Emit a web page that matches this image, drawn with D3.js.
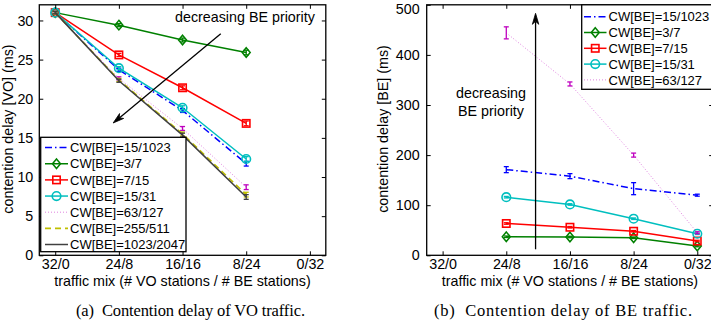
<!DOCTYPE html>
<html>
<head>
<meta charset="utf-8">
<script src="https://cdn.jsdelivr.net/npm/d3@7"></script>
<style>
  body { margin: 0; background: #fff; }
  svg { display: block; }
</style>
</head>
<body>
<svg id="fig" width="711" height="323"></svg>
<script>
// Traffic mixes (# VO stations / # BE stations)
const mixes = ["32/0", "24/8", "16/16", "8/24", "0/32"];

// Contention window settings of the BE class
const cwNames = ["CW[BE]=15/1023", "CW[BE]=3/7", "CW[BE]=7/15", "CW[BE]=15/31",
                 "CW[BE]=63/127", "CW[BE]=255/511", "CW[BE]=1023/2047"];

// VO contention delay (ms), mixes 32/0 .. 8/24
const voDelay1023 = [31.0, 23.7, 18.5, 11.7];
const voDelay7    = [31.0, 29.4, 27.5, 25.9];
const voDelay15   = [31.0, 25.6, 21.4, 16.85];
const voDelay31   = [31.0, 23.9, 18.85, 12.3];
const voDelay127  = [31.0, 22.6, 16.2, 8.7];
const voDelay511  = [31.0, 22.4, 15.5, 7.75];
const voDelay2047 = [31.0, 22.3, 15.35, 7.45];
const voErr       = [0.15, 0.2, 0.25, 0.3];

// BE contention delay (ms), mixes 24/8 .. 0/32
const beDelay1023 = [171, 158, 133, 120];
const beErr1023   = [6, 5, 12, 2];
const beDelay7    = [37, 36.5, 35, 18.5];
const beDelay15   = [63.5, 56, 48, 28.5];
const beDelay31   = [116, 101.5, 73, 43];
const beDelay127  = [444, 342, 200, 45];
const beErr127    = [12, 4, 4, 2];
const beErrSmall  = [1.5, 1.5, 1.5, 1.5];

const voTicks = [0, 5, 10, 15, 20, 25, 30];
const beTicks = [0, 100, 200, 300, 400, 500];

const styles = {
  "CW[BE]=15/1023":   { color: "#0000ff", dash: "7,3,1.5,3", width: 1.5, marker: null },
  "CW[BE]=3/7":       { color: "#008000", dash: null, width: 1.5, marker: "diamond" },
  "CW[BE]=7/15":      { color: "#ff0000", dash: null, width: 1.5, marker: "square" },
  "CW[BE]=15/31":     { color: "#00bfbf", dash: null, width: 1.5, marker: "circle" },
  "CW[BE]=63/127":    { color: "#bf00bf", dash: "1,2", width: 0.9, marker: null, lineOpacity: 0.55 },
  "CW[BE]=255/511":   { color: "#bfbf00", dash: "6,4", width: 1.6, marker: null },
  "CW[BE]=1023/2047": { color: "#404040", dash: null, width: 1.5, marker: null }
};

const svg = d3.select("#fig");
const sans = '"Liberation Sans", Arial, sans-serif';
const serif = '"Liberation Serif", "Times New Roman", serif';
const fs = 14.3;

function drawMarker(g, kind, cx, cy, color) {
  if (kind === "diamond") {
    g.append("path").attr("d", `M${cx},${cy-4.8}L${cx+4},${cy}L${cx},${cy+4.8}L${cx-4},${cy}Z`)
      .attr("fill", "none").attr("stroke", color).attr("stroke-width", 1.5);
  } else if (kind === "square") {
    g.append("rect").attr("x", cx-3.7).attr("y", cy-3.7).attr("width", 7.4).attr("height", 7.4)
      .attr("fill", "none").attr("stroke", color).attr("stroke-width", 1.6);
  } else if (kind === "circle") {
    g.append("circle").attr("cx", cx).attr("cy", cy).attr("r", 4.3)
      .attr("fill", "none").attr("stroke", color).attr("stroke-width", 1.6);
  }
}

function panel(opt) {
  const g = svg.append("g");
  const x = d3.scaleLinear().domain([-0.25, 4.25]).range([opt.left, opt.left + 286.5]);
  const y = d3.scaleLinear().domain([0, opt.ymax]).range([255.3, 4.8]);
  const x0 = x.range()[0], x1 = x.range()[1], y0 = y.range()[0], y1 = y.range()[1];

  // Series: error bars, lines, markers
  opt.series.forEach(s => {
    const st = styles[s.name];
    const pts = s.values.map((v, i) => [x(s.start + i), y(v)]);
    g.append("path")
      .attr("d", d3.line()(pts))
      .attr("fill", "none").attr("stroke", st.color).attr("stroke-width", st.width)
      .attr("stroke-opacity", st.lineOpacity || 1)
      .attr("stroke-dasharray", st.dash);
    s.values.forEach((v, i) => {
      const cx = x(s.start + i);
      const e = s.err[i];
      const ya = y(v + e), yb = y(v - e);
      const eg = g.append("g").attr("stroke", st.color).attr("stroke-width", 1.3);
      eg.append("line").attr("x1", cx).attr("x2", cx).attr("y1", ya).attr("y2", yb);
      eg.append("line").attr("x1", cx - 2.5).attr("x2", cx + 2.5).attr("y1", ya).attr("y2", ya);
      eg.append("line").attr("x1", cx - 2.5).attr("x2", cx + 2.5).attr("y1", yb).attr("y2", yb);
      if (st.marker) drawMarker(g, st.marker, cx, y(v), st.color);
    });
  });

  // Axes with inward ticks on all four sides
  const fmt = (d) => mixes[d];
  g.append("g").attr("transform", `translate(0,${y0})`)
    .call(d3.axisBottom(x).tickValues([0, 1, 2, 3, 4]).tickFormat(fmt).tickSizeInner(-4).tickSizeOuter(0).tickPadding(4))
    .call(a => a.select(".domain").remove());
  g.append("g").attr("transform", `translate(0,${y1})`)
    .call(d3.axisTop(x).tickValues([0, 1, 2, 3, 4]).tickFormat("").tickSizeInner(-4).tickSizeOuter(0))
    .call(a => a.select(".domain").remove());
  g.append("g").attr("transform", `translate(${x0},0)`)
    .call(d3.axisLeft(y).tickValues(opt.ticks).tickSizeInner(-4).tickSizeOuter(0).tickPadding(opt.ypad))
    .call(a => a.select(".domain").remove())
    // keep the topmost label inside the page
    .call(a => a.selectAll(".tick").filter(d => d === opt.ymax).select("text").attr("dy", "0.6em"));
  g.append("g").attr("transform", `translate(${x1},0)`)
    .call(d3.axisRight(y).tickValues(opt.ticks).tickFormat("").tickSizeInner(-4).tickSizeOuter(0))
    .call(a => a.select(".domain").remove());
  g.selectAll(".tick text").attr("font-family", sans).attr("font-size", fs).attr("fill", "#000");
  g.selectAll(".tick line").attr("stroke", "#000");

  // Plot frame
  g.append("rect").attr("x", x0).attr("y", y1).attr("width", x1 - x0).attr("height", y0 - y1)
    .attr("fill", "none").attr("stroke", "#000").attr("stroke-width", 1.3);

  // Axis titles
  g.append("text").attr("x", (x0 + x1) / 2).attr("y", 286)
    .attr("text-anchor", "middle").attr("font-family", sans).attr("font-size", fs)
    .text("traffic mix (# VO stations / # BE stations)");
  g.append("text")
    .attr("transform", `translate(${opt.ylabelX},129) rotate(-90)`)
    .attr("text-anchor", "middle").attr("font-family", sans).attr("font-size", fs)
    .text(opt.ylabel);

  // Caption
  g.append("text").attr("x", opt.captionX).attr("y", 315.5)
    .attr("font-family", serif).attr("font-size", 16.5)
    .attr("xml:space", "preserve")
    .attr("textLength", opt.captionLen).attr("lengthAdjust", "spacing")
    .text(opt.caption);

  return { g, x, y };
}

// (a) VO delay
const voSeries = [
  { name: "CW[BE]=15/1023",   values: voDelay1023, err: voErr, start: 0 },
  { name: "CW[BE]=3/7",       values: voDelay7,    err: voErr, start: 0 },
  { name: "CW[BE]=7/15",      values: voDelay15,   err: voErr, start: 0 },
  { name: "CW[BE]=15/31",     values: voDelay31,   err: voErr, start: 0 },
  { name: "CW[BE]=63/127",    values: voDelay127,  err: voErr, start: 0 },
  { name: "CW[BE]=255/511",   values: voDelay511,  err: voErr, start: 0 },
  { name: "CW[BE]=1023/2047", values: voDelay2047, err: voErr, start: 0 }
];
const pa = panel({ left: 39.3, ymax: 32, ticks: voTicks, series: voSeries, ypad: 6,
  ylabelX: 13, ylabel: "contention delay [VO] (ms)",
  caption: "(a)  Contention delay of VO traffic.", captionX: 76, captionLen: 229 });

// (b) BE delay
const beSeries = [
  { name: "CW[BE]=15/1023", values: beDelay1023, err: beErr1023,  start: 1 },
  { name: "CW[BE]=3/7",     values: beDelay7,    err: beErrSmall, start: 1 },
  { name: "CW[BE]=7/15",    values: beDelay15,   err: beErrSmall, start: 1 },
  { name: "CW[BE]=15/31",   values: beDelay31,   err: beErrSmall, start: 1 },
  { name: "CW[BE]=63/127",  values: beDelay127,  err: beErr127,   start: 1 }
];
const pb = panel({ left: 426.7, ymax: 500, ticks: beTicks, series: beSeries, ypad: 7,
  ylabelX: 387.5, ylabel: "contention delay [BE] (ms)",
  caption: "(b)  Contention delay of BE traffic.", captionX: 434, captionLen: 258 });

// Arrows marking the direction of decreasing BE priority
function arrow(g, xa, ya, xb, yb) {
  const ang = Math.atan2(yb - ya, xb - xa);
  const L = 11, W = 3.2;
  const bx = xb - L * Math.cos(ang), by = yb - L * Math.sin(ang);
  const nx = -Math.sin(ang), ny = Math.cos(ang);
  g.append("line").attr("x1", xa).attr("y1", ya).attr("x2", bx + 3 * Math.cos(ang)).attr("y2", by + 3 * Math.sin(ang))
    .attr("stroke", "#000").attr("stroke-width", 1.3);
  g.append("path")
    .attr("d", `M${xb},${yb}L${bx + W * nx},${by + W * ny}L${bx + 3 * Math.cos(ang)},${by + 3 * Math.sin(ang)}L${bx - W * nx},${by - W * ny}Z`)
    .attr("fill", "#000").attr("stroke", "#000").attr("stroke-width", 0.8);
}
arrow(pa.g, pa.x(2.6), pa.y(28.3), pa.x(0.91), pa.y(16.9));
pa.g.append("text").attr("x", pa.x(2.98)).attr("y", pa.y(29.75))
  .attr("text-anchor", "middle").attr("font-family", sans).attr("font-size", fs)
  .text("decreasing BE priority");

arrow(pb.g, pb.x(1.46), pb.y(12), pb.x(1.46), pb.y(483));
pb.g.append("text").attr("x", pb.x(0.76)).attr("y", pb.y(313))
  .attr("text-anchor", "middle").attr("font-family", sans).attr("font-size", fs).text("decreasing");
pb.g.append("text").attr("x", pb.x(0.76)).attr("y", pb.y(279))
  .attr("text-anchor", "middle").attr("font-family", sans).attr("font-size", fs).text("BE priority");

// Legends
function legend(g, items, bx, by, bw, bh, rowY0, step, sx0, sx1) {
  g.append("rect").attr("x", bx).attr("y", by).attr("width", bw).attr("height", bh)
    .attr("fill", "#fff").attr("stroke", "#000").attr("stroke-width", 1.3);
  items.forEach((name, i) => {
    const st = styles[name];
    const yy = rowY0 + i * step;
    g.append("line").attr("x1", sx0).attr("x2", sx1).attr("y1", yy).attr("y2", yy)
      .attr("stroke", st.color).attr("stroke-width", st.width)
      .attr("stroke-opacity", st.lineOpacity || 1)
      .attr("stroke-dasharray", st.dash);
    if (st.marker) drawMarker(g, st.marker, (sx0 + sx1) / 2, yy, st.color);
    g.append("text").attr("x", sx1 + 2).attr("y", yy + 4.7)
      .attr("font-family", sans).attr("font-size", 13).text(name);
  });
}
legend(pa.g, cwNames, 40.7, 137.3, 145.3, 114.4, 147.6, 16.15, 45, 68);
legend(pb.g, cwNames.slice(0, 5), 581.7, 4.8, 140, 84.5, 16.7, 15.8, 584, 606.5);
</script>
</body>
</html>
